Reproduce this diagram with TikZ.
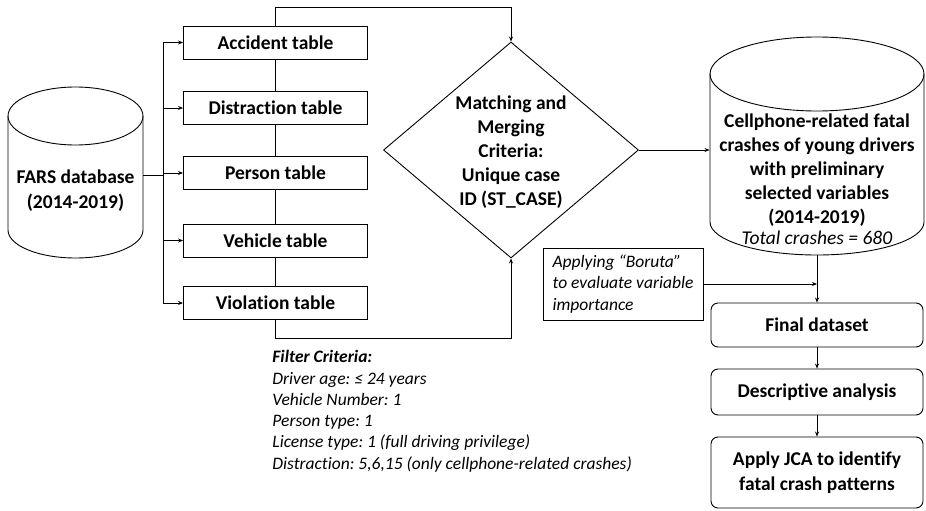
\documentclass[tikz,border=0pt]{standalone}
\usepackage{fontspec}
\setmainfont{Carlito}[Ligatures=NoCommon]
\frenchspacing
\usetikzlibrary{shapes.geometric,arrows.meta}
\begin{document}
\begin{tikzpicture}[x=1pt,y=-1pt,
  line width=0.9pt,
  arr/.style={-{Stealth[length=5pt,width=4pt]}},
  tbl/.style={draw,minimum width=184pt,minimum height=33pt,inner sep=0pt,font=\fontsize{19.5}{22}\selectfont\bfseries},
  rbox/.style={draw,rounded corners=7pt,minimum width=212pt,inner sep=0pt,align=center,font=\fontsize{19.5}{25}\selectfont\bfseries},
  btext/.style={align=center,font=\fontsize{19.5}{24}\selectfont\bfseries},
  itext/.style={align=left,font=\fontsize{17.5}{21.3}\selectfont\itshape}]
\useasboundingbox (0,0) rectangle (926,511);
% FARS cylinder
\draw (8,116) -- (8,230) arc[start angle=180,end angle=360,x radius=67.5,y radius=-28] -- (143,116);
\draw (75.5,116) ellipse[x radius=67.5,y radius=29];
\node[minimum width=135pt,minimum height=171pt,inner sep=0pt] (fars) at (75.5,172.5) {};
\node[btext,font=\fontsize{19.5}{25}\selectfont\bfseries] (farst) at (75.5,191) {FARS database\\(2014-2019)};
% tables
\node[tbl] (acc) at (275.5,42.5) {Accident table};
\node[tbl] (dis) at (275.5,108) {Distraction table};
\node[tbl] (per) at (275.5,173) {Person table};
\node[tbl] (veh) at (275.5,240.5) {Vehicle table};
\node[tbl] (vio) at (275.5,303) {Violation table};
% branching
\coordinate (tr) at (163,175);
\draw (143,175) -- (tr);
\draw (tr |- acc.west) -- (tr |- vio.west);
\foreach \t in {acc,dis,per,veh,vio} \draw[arr] (tr |- \t.west) -- (\t.west);
\draw (acc.south) -- (dis.north);
\draw (dis.south) -- (per.north);
\draw (per.south) -- (veh.north);
\draw (veh.south) -- (vio.north);
% diamond
\node[draw,diamond,minimum width=255pt,minimum height=216pt,inner sep=0pt] (dia) at (511,150) {};
\node[btext] at (511,152) {Matching and\\Merging\\Criteria:\\Unique case\\ID (ST\_CASE)};
\coordinate (topc) at (acc.north |- 0,7);
\draw[arr] (acc.north) -- (topc) -| (dia.north);
\coordinate (botc) at (vio.south |- 0,338);
\draw[arr] (vio.south) -- (botc) -| (dia.south);
% right cylinder
\draw (710,74) -- (710,222) arc[start angle=180,end angle=360,x radius=107,y radius=-33] -- (924,74);
\draw (817,74) ellipse[x radius=107,y radius=37];
\node[minimum width=214pt,minimum height=218pt,inner sep=0pt] (cyl) at (817,146) {};
\node[btext] at (817,179) {Cellphone-related fatal\\crashes of young drivers\\with preliminary\\selected variables\\(2014-2019)\\[-3pt]{\mdseries\itshape Total crashes = 680}};
\draw[arr] (dia.east) -- (cyl.west |- dia.east);
% Boruta
\node[draw,itext,minimum width=160pt,minimum height=72pt,inner sep=0pt] (bor) at (623,284) {Applying “Boruta”\\to evaluate variable\\importance};
% right column
\node[rbox,minimum height=44pt] (fin) at (817,325) {Final dataset};
\node[rbox,minimum height=46pt] (des) at (817,392) {Descriptive analysis};
\node[rbox,minimum height=71pt] (jca) at (817,472.5) {Apply JCA to identify\\fatal crash patterns};
\draw[arr] (cyl.south) -- (fin.north);
\draw[arr] (bor.east) -- (bor.east -| fin.north);
\draw[arr] (fin.south) -- (des.north);
\draw[arr] (des.south) -- (jca.north);
% filter criteria
\node[itext,anchor=north west,inner sep=0pt] (flt) at (272,350) {{\bfseries Filter Criteria:}\\Driver age: ≤ 24 years\\Vehicle Number: 1\\Person type: 1\\License type: 1 (full driving privilege)\\Distraction: 5,6,15 (only cellphone-related crashes)};
\end{tikzpicture}
\end{document}
